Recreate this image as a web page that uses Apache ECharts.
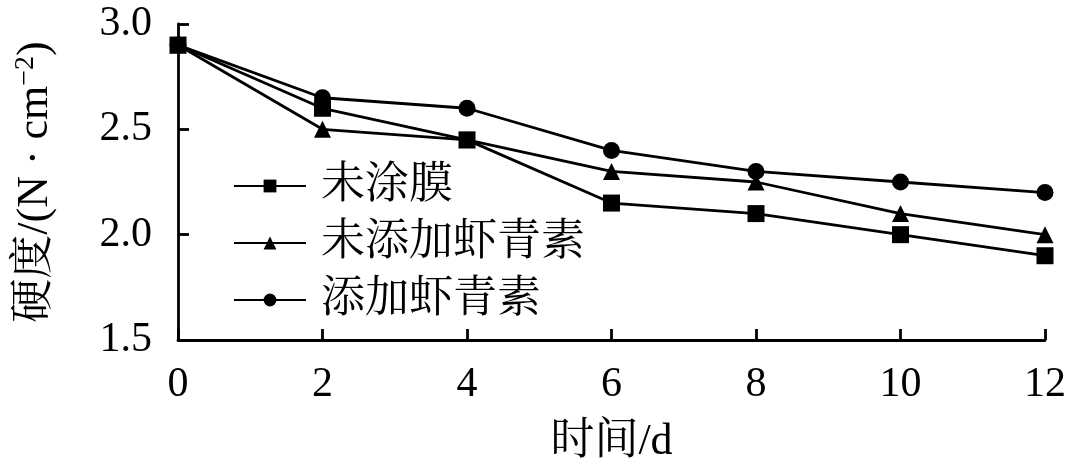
<!DOCTYPE html>
<html><head><meta charset="utf-8">
<script src="https://cdn.jsdelivr.net/npm/echarts@6/dist/echarts.min.js"></script>
<style>html,body{margin:0;padding:0;background:#fff}#c{width:1080px;height:472px}</style>
</head><body><div id="c"></div>
<script>
const days = [0, 2, 4, 6, 8, 10, 12];
const seriesNames = ['未涂膜', '未添加虾青素', '添加虾青素'];
const uncoated = [2.9, 2.6, 2.45, 2.15, 2.1, 2.0, 1.9];
const noAstaxanthin = [2.9, 2.5, 2.45, 2.3, 2.25, 2.1, 2.0];
const withAstaxanthin = [2.9, 2.65, 2.6, 2.4, 2.3, 2.25, 2.2];
const yTicks = [1.5, 2.0, 2.5, 3.0];
const xTicks = [0, 2, 4, 6, 8, 10, 12];

const serifFont = '"Liberation Serif","Noto Serif CJK SC","Noto Sans CJK SC",serif';
const chart = echarts.init(document.getElementById('c'));
function mk(name, vals, sym, size) {
  return {
    name: name, type: 'line', symbol: sym, symbolSize: size,
    data: days.map((d, i) => [d, vals[i]]),
    lineStyle: { color: '#000', width: 2.8 },
    itemStyle: { color: '#000' },
    emphasis: { disabled: true }
  };
}
chart.setOption({
  animation: false,
  grid: { left: 178, right: 35, top: 24, bottom: 132, containLabel: false, outerBoundsMode: 'none' },
  legend: {
    orient: 'vertical', left: 228, top: 159, itemWidth: 72, itemHeight: 16, itemGap: 13,
    textStyle: { fontFamily: serifFont, fontSize: 44, color: '#000', padding: [0, 0, 0, 10] },
    data: seriesNames
  },
  xAxis: {
    type: 'value', min: 0, max: 12, interval: 2,
    name: '时间/d', nameLocation: 'middle', nameGap: 80,
    nameTextStyle: { fontFamily: serifFont, fontSize: 44, color: '#000' },
    axisLine: { onZero: false, lineStyle: { color: '#000', width: 2.8 } },
    axisTick: { inside: true, length: 11, lineStyle: { color: '#000', width: 2.8 } },
    axisLabel: { fontFamily: serifFont, fontSize: 42, color: '#000', margin: 24,
      formatter: v => xTicks.includes(v) ? String(v) : '' },
    splitLine: { show: false }
  },
  yAxis: {
    type: 'value', min: 1.5, max: 3.0, interval: 0.5,
    name: '{a|硬度/(N · cm}{s|−2}{a|)}', nameLocation: 'middle', nameGap: 120, nameRotate: 90,
    nameTextStyle: { color: '#000',
      rich: {
        a: { fontFamily: serifFont, fontSize: 44, color: '#000' },
        s: { fontFamily: serifFont, fontSize: 28, color: '#000', verticalAlign: 'top', padding: [0, 0, 18, 0] }
      } },
    axisLine: { lineStyle: { color: '#000', width: 2.8 } },
    axisTick: { inside: true, length: 11, lineStyle: { color: '#000', width: 2.8 } },
    axisLabel: { fontFamily: serifFont, fontSize: 42, color: '#000', margin: 26,
      formatter: v => yTicks.some(t => Math.abs(t - v) < 1e-9) ? v.toFixed(1) : '' },
    splitLine: { show: false }
  },
  series: [
    mk(seriesNames[0], uncoated, 'rect', 17),
    mk(seriesNames[1], noAstaxanthin, 'triangle', 17),
    mk(seriesNames[2], withAstaxanthin, 'circle', 17)
  ]
});
</script></body></html>
